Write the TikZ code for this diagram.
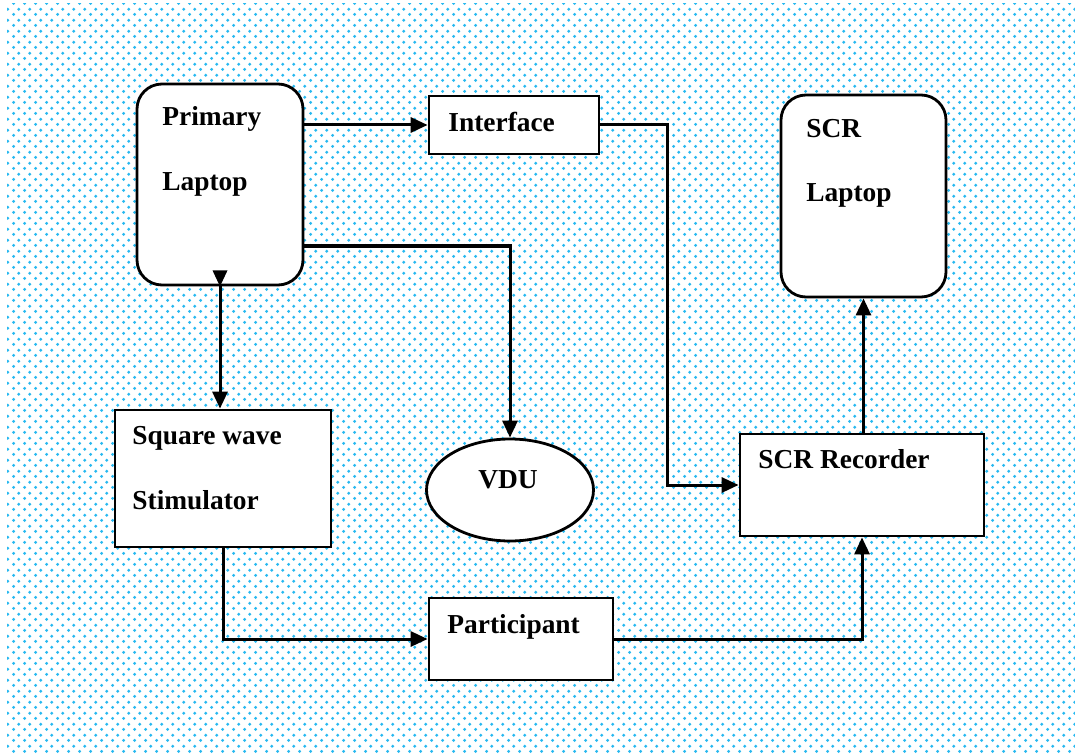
\documentclass[tikz,border=0pt]{standalone}
\usepackage{fontspec}
\setmainfont{Liberation Serif}
\usetikzlibrary{arrows.meta,calc,patterns,shapes.geometric}
\pgfdeclarepatternformonly{stagdots}{\pgfqpoint{0pt}{0pt}}{\pgfqpoint{5.333pt}{5.333pt}}{\pgfqpoint{5.333pt}{5.333pt}}{%
  \pgfpathcircle{\pgfqpoint{1.333pt}{1.333pt}}{0.85pt}%
  \pgfpathcircle{\pgfqpoint{4pt}{4pt}}{0.85pt}%
  \pgfusepath{fill}}
\definecolor{dotblue}{RGB}{40,185,240}
\tikzset{
  box/.style={draw, line width=1.4pt, fill=white, inner sep=0pt},
  rbox/.style={box, rounded corners=12.5pt},
  txt/.style={anchor=base west, inner sep=0pt, font=\fontsize{13.7}{16}\selectfont\bfseries},
  arr/.style={line width=1.5pt, -{Triangle[length=8.5pt,width=7.5pt]}},
  tip/.style={fill=black}
}
\begin{document}
\begin{tikzpicture}[x=0.5pt,y=-0.5pt]
\useasboundingbox (0,0) rectangle (1075,754);
\fill[white] (0,0) rectangle (1075,754);
\fill[pattern=stagdots, pattern color=dotblue] (7,4) rectangle (1075,754);

% nodes
\node[rbox, minimum width=83pt, minimum height=100.5pt] (pl) at (220,184.5) {};
\node[box, minimum width=85pt, minimum height=29pt] (iface) at (514,125) {};
\node[rbox, minimum width=82.5pt, minimum height=101pt] (scrl) at (863.5,196) {};
\node[box, minimum width=108pt, minimum height=68.5pt] (sq) at (223,478.5) {};
\node[box, ellipse, minimum width=83.5pt, minimum height=51pt] (vdu) at (510,490) {};
\node[box, minimum width=122pt, minimum height=51pt] (rec) at (862,485) {};
\node[box, minimum width=92pt, minimum height=41pt] (part) at (521,639) {};

% texts
\node[txt] (t1) at (162,126) {Primary};
\node[txt] (t2) at (162,190.5) {Laptop};
\node[txt] (t3) at (448,131.5) {Interface};
\node[txt] (t4) at (806,138) {SCR};
\node[txt] (t5) at (806,202) {Laptop};
\node[txt] (t6) at (132,444) {Square wave};
\node[txt] (t7) at (132,509) {Stimulator};
\node[txt] (t8) at (478,488) {VDU};
\node[txt] (t9) at (758,468) {SCR Recorder};
\node[txt] (t10) at (447,633) {Participant};

% connectors
\draw[arr] (iface.west -| pl.east) -- (iface.west);
\draw[arr] ($(pl.east)+(0,61.5)$) -| (vdu.north);
\draw[arr] (pl.south) -- (pl.south |- sq.north);
\fill[tip] (pl.south) -- ++(-7.5,-16) -- ++(15,0) -- cycle;
\draw[arr] (iface.east) -| ($(rec.west)+(-71,0)$) -- (rec.west);
\draw[arr] (scrl.south |- rec.north) -- (scrl.south);
\draw[arr] (sq.south) |- (part.west);
\draw[arr] (part.east) -| (rec.south);
\end{tikzpicture}
\end{document}
